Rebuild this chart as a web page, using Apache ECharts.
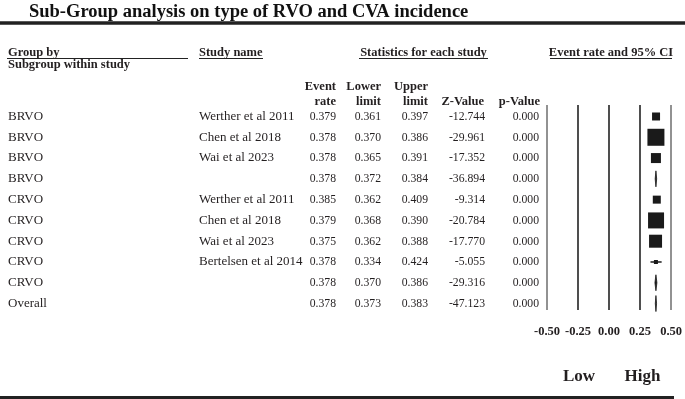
<!DOCTYPE html>
<html>
<head>
<meta charset="utf-8">
<script src="https://cdn.jsdelivr.net/npm/echarts@6/dist/echarts.min.js"></script>
<style>
html, body { margin: 0; padding: 0; background: #fff; }
#chart { width: 685px; height: 399px; }
</style>
</head>
<body>
<div id="chart"></div>
<script>
// rows of the forest plot, top to bottom
const groups = ['BRVO', 'BRVO', 'BRVO', 'BRVO', 'CRVO', 'CRVO', 'CRVO', 'CRVO', 'CRVO', 'Overall']
const studies = ['Werther et al 2011', 'Chen et al 2018', 'Wai et al 2023', '',
    'Werther et al 2011', 'Chen et al 2018', 'Wai et al 2023', 'Bertelsen et al 2014', '', '']
const eventRate = [0.379, 0.378, 0.378, 0.378, 0.385, 0.379, 0.375, 0.378, 0.378, 0.378]
const lowerLimit = [0.361, 0.370, 0.365, 0.372, 0.362, 0.368, 0.362, 0.334, 0.370, 0.373]
const upperLimit = [0.397, 0.386, 0.391, 0.384, 0.409, 0.390, 0.388, 0.424, 0.386, 0.383]
const zValue = [-12.744, -29.961, -17.352, -36.894, -9.314, -20.784, -17.770, -5.055, -29.316, -47.123]
const pValue = [0.000, 0.000, 0.000, 0.000, 0.000, 0.000, 0.000, 0.000, 0.000, 0.000]
// relative study weight (box size); pooled rows have none
const weights = [8, 17, 10, null, 8, 16, 13, 4, null, null]
const xTicks = [-0.5, -0.25, 0, 0.25, 0.5]

const serif = '"Liberation Serif", "DejaVu Serif", serif'
const ink = '#231f20'

const rows = groups.map((g, i) => i)
const yRange = { min: -0.553, max: 9.31 }

// text columns: [field, x, align, numeric]
const columns = [
    [i => groups[i], 8, 'left', false],
    [i => studies[i], 199, 'left', false],
    [i => eventRate[i].toFixed(3), 336, 'right', true],
    [i => lowerLimit[i].toFixed(3), 381, 'right', true],
    [i => upperLimit[i].toFixed(3), 428, 'right', true],
    [i => zValue[i].toFixed(3), 485, 'right', true],
    [i => pValue[i].toFixed(3), 539, 'right', true]
]

const chart = echarts.init(document.getElementById('chart'))

const headText = (text, x, y, align, size) => ({
    type: 'text', x, y,
    style: { text, fill: ink, font: `bold ${size || 12.5}px ${serif}`, align: align || 'left', verticalAlign: 'middle' }
})
const rule = (x1, x2, y, w) => ({
    type: 'line', shape: { x1, y1: y, x2, y2: y },
    style: { stroke: '#222', lineWidth: w || 1 }
})

const option = {
    animation: false,
    grid: [
        { left: 0, width: 685, top: 105, height: 205 },
        { left: 547, width: 126, top: 105, height: 205 }
    ],
    xAxis: [
        { gridIndex: 0, type: 'value', min: 0, max: 685, show: false },
        {
            gridIndex: 1, type: 'value', min: xTicks[0], max: xTicks[xTicks.length - 1], interval: 0.25,
            axisLine: { show: false }, axisTick: { show: false },
            axisLabel: {
                margin: 15, color: ink, fontFamily: serif, fontWeight: 'bold', fontSize: 12.5,
                formatter: v => v.toFixed(2)
            },
            splitLine: {
                show: true,
                lineStyle: { color: ['#777', '#222', '#222', '#222', '#777'], width: 1.6 }
            }
        }
    ],
    yAxis: [
        { gridIndex: 0, type: 'value', inverse: true, ...yRange, show: false },
        { gridIndex: 1, type: 'value', inverse: true, ...yRange, show: false }
    ],
    series: [
        {
            type: 'custom',
            xAxisIndex: 0, yAxisIndex: 0,
            data: rows.map(i => [0, i]),
            encode: { x: 0, y: 1 },
            renderItem: (params, api) => {
                const i = api.value(1)
                const children = columns.map(([get, x, align, numeric]) => {
                    const p = api.coord([x, i])
                    return {
                        type: 'text', x: p[0], y: p[1], scaleX: numeric ? 0.9 : 1,
                        style: { text: get(i), fill: ink, font: `13px ${serif}`, align, verticalAlign: 'middle' }
                    }
                })
                return { type: 'group', children }
            }
        },
        {
            type: 'custom',
            xAxisIndex: 1, yAxisIndex: 1,
            data: rows.map(i => [eventRate[i], i, lowerLimit[i], upperLimit[i], weights[i] == null ? 0 : weights[i]]),
            encode: { x: 0, y: 1 },
            renderItem: (params, api) => {
                const c = api.coord([api.value(0), api.value(1)])
                const lo = api.coord([api.value(2), api.value(1)])
                const hi = api.coord([api.value(3), api.value(1)])
                const w = api.value(4)
                if (!w) {
                    const h = 8
                    return {
                        type: 'polygon',
                        shape: { points: [[lo[0], c[1]], [c[0], c[1] - h], [hi[0], c[1]], [c[0], c[1] + h]] },
                        style: { fill: '#1a1a1a', stroke: '#1a1a1a', lineWidth: 0.8 }
                    }
                }
                return {
                    type: 'group',
                    children: [
                        { type: 'line', shape: { x1: lo[0], y1: c[1], x2: hi[0], y2: c[1] }, style: { stroke: '#1a1a1a', lineWidth: 1.5 } },
                        { type: 'rect', shape: { x: c[0] - w / 2, y: c[1] - w / 2, width: w, height: w }, style: { fill: '#1a1a1a' } }
                    ]
                }
            }
        }
    ],
    graphic: [
        {
            type: 'text', x: 29, y: 12,
            style: { text: 'Sub-Group analysis on type of RVO and CVA incidence', fill: '#111', font: `bold 18.5px ${serif}`, verticalAlign: 'middle' }
        },
        rule(0, 685, 23, 3.5),
        headText('Group by', 8, 52.5),
        rule(7, 188, 58.5),
        headText('Study name', 199, 52.5),
        rule(199, 263, 58.5),
        headText('Statistics for each study', 423.5, 52.5, 'center'),
        rule(359, 488, 58.5),
        headText('Event rate and 95% CI', 611, 52.5, 'center'),
        rule(550, 672, 58.5),
        headText('Subgroup within study', 8, 65),
        headText('Event', 336, 87, 'right'),
        headText('rate', 336, 102, 'right'),
        headText('Lower', 381, 87, 'right'),
        headText('limit', 381, 102, 'right'),
        headText('Upper', 428, 87, 'right'),
        headText('limit', 428, 102, 'right'),
        headText('Z-Value', 484, 102, 'right'),
        headText('p-Value', 540, 102, 'right'),
        headText('Low', 579, 377, 'center', 17),
        headText('High', 642.5, 377, 'center', 17),
        rule(0, 674, 397.5, 3)
    ]
}

chart.setOption(option)
</script>
</body>
</html>
